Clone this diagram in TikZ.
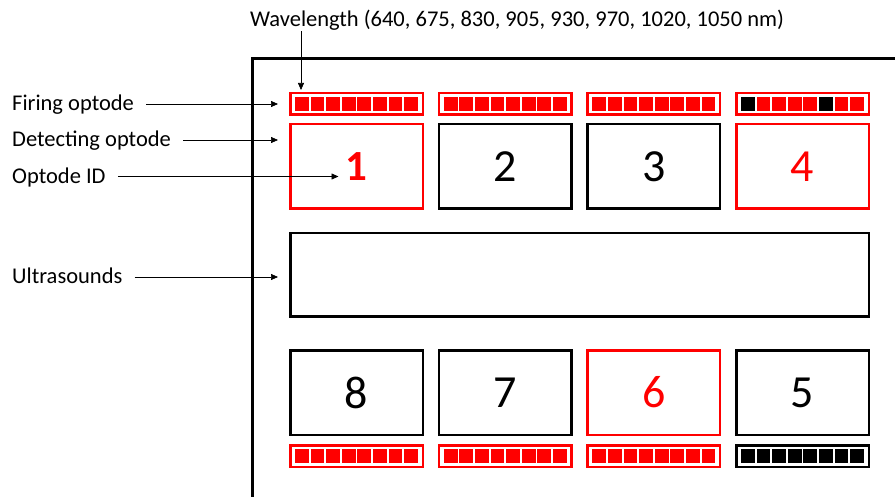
\documentclass[tikz,border=0pt]{standalone}
\usepackage{fontspec}
\setmainfont{Carlito}
\usetikzlibrary{arrows.meta}
\definecolor{optred}{RGB}{255,0,0}
\begin{document}
\begin{tikzpicture}[x=1pt,y=-1pt,
  lbl/.style={anchor=west, inner sep=0pt, text height=14pt, text depth=0pt, font=\fontsize{22.5}{26}\selectfont},
  ptr/.style={-{Triangle[length=7pt,width=6pt]}, line width=0.7pt},
  optbox/.style={draw=#1, text=#1, line width=2.5pt, minimum width=132.5pt, minimum height=84.5pt, inner sep=0pt, font=\fontsize{46}{50}\selectfont},
  barbox/.style={draw=#1, line width=2.5pt, minimum width=132.5pt, minimum height=21.5pt, inner sep=0pt},
  sq/.style={fill=#1, minimum size=13.8pt, inner sep=0pt}
]
\useasboundingbox (0,0) rectangle (895,497);
% frame
\draw[line width=3pt] (252,497) -- (252,59) -- (895,59);

% top bars
\node[barbox=optred] (f1) at (356.5,104) {};
\node[barbox=optred] (f2) at (505.2,104) {};
\node[barbox=optred] (f3) at (653.8,104) {};
\node[barbox=optred] (f4) at (802.5,104) {};
% bottom bars
\node[barbox=optred] (g8) at (356.5,456) {};
\node[barbox=optred] (g7) at (505.2,456) {};
\node[barbox=optred] (g6) at (653.8,456) {};
\node[barbox=black]  (g5) at (802.5,456) {};

\foreach \b/\cols in {f1/{optred,optred,optred,optred,optred,optred,optred,optred},
                      f2/{optred,optred,optred,optred,optred,optred,optred,optred},
                      f3/{optred,optred,optred,optred,optred,optred,optred,optred},
                      f4/{black,optred,optred,optred,optred,black,optred,optred},
                      g8/{optred,optred,optred,optred,optred,optred,optred,optred},
                      g7/{optred,optred,optred,optred,optred,optred,optred,optred},
                      g6/{optred,optred,optred,optred,optred,optred,optred,optred},
                      g5/{black,black,black,black,black,black,black,black}}{
  \foreach \c [count=\i from 0] in \cols {
    \node[sq=\c] at ([xshift={(-54.6+15.6*\i)*1pt}]\b.center) {};
  }
}

% optode boxes
\node[optbox=optred] (t1) at (356.5,166.5) {\fontsize{43}{48}\selectfont\bfseries 1};
\node[optbox=black]  (t2) at (505.2,166.5) {2};
\node[optbox=black]  (t3) at (653.8,166.5) {3};
\node[optbox=optred] (t4) at (802.5,166.5) {4};
\node[optbox=black]  (b8) at (356.5,392.5) {8};
\node[optbox=black]  (b7) at (505.2,392.5) {7};
\node[optbox=optred] (b6) at (653.8,392.5) {6};
\node[optbox=black]  (b5) at (802.5,392.5) {5};

% ultrasounds box
\node[draw, line width=2.5pt, minimum width=578.5pt, minimum height=83.5pt, inner sep=0pt] (us) at (579.5,275) {};

% labels
\node[lbl] (wl) at (250,20) {Wavelength (640, 675, 830, 905, 930, 970, 1020, 1050 nm)};
\node[lbl] (fire) at (12,104) {Firing optode};
\node[lbl] (det) at (12,140) {Detecting optode};
\node[lbl] (oid) at (12,176.5) {Optode ID};
\node[lbl] (ult) at (12,277) {Ultrasounds};

% pointer targets
\coordinate (wtip) at ([xshift=-55.5pt,yshift=2pt]f1.north);
\coordinate (ftip) at ([xshift=-11pt]f1.west);
\coordinate (dtip) at ([xshift=-11pt,yshift=-17pt]t1.north west);
\coordinate (otip) at ([xshift=-18pt,yshift=-10pt]t1.center);
\coordinate (utip) at ([xshift=-11pt,yshift=-2pt]us.west);

\draw[ptr, shorten <=4pt] (wl.south -| wtip) -- (wtip);
\draw[ptr] ([xshift=12pt]fire.east) -- (ftip);
\draw[ptr] ([xshift=12pt]det.east) -- (dtip);
\draw[ptr] ([xshift=12pt]oid.east) -- (otip);
\draw[ptr] ([xshift=12pt]ult.east) -- (utip);
\end{tikzpicture}
\end{document}
